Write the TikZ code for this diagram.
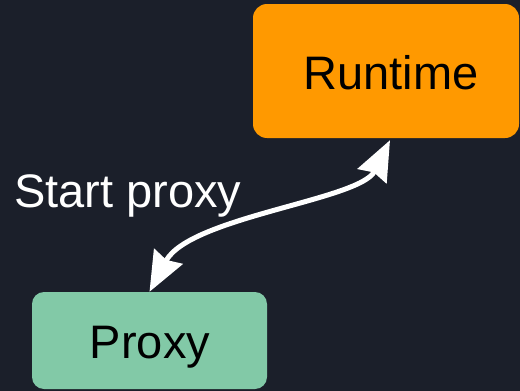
\documentclass[tikz,border=0pt]{standalone}
\usepackage{fontspec}
\setmainfont{Liberation Sans}
\usetikzlibrary{arrows.meta}
\definecolor{bg}{HTML}{1B1F2A}
\definecolor{runtimeC}{HTML}{FF9900}
\definecolor{proxyC}{HTML}{82C9A7}
\tikzset{
  box/.style={draw=none, rounded corners=14pt, inner sep=0pt},
  txt/.style={font=\fontsize{47}{50}\selectfont, inner sep=0pt},
  lbl/.style={txt, text height=34pt, text depth=0pt},
  arr/.style={draw=white, line width=5pt, {Stealth[length=40pt,width=32pt,inset=4pt]}-{Stealth[length=40pt,width=32pt,inset=4pt]}}
}
\begin{document}
\begin{tikzpicture}[x=1pt,y=-1pt]
\fill[bg] (0,0) rectangle (520,391);
\useasboundingbox (0,0) rectangle (520,391);
\node[box, fill=runtimeC, minimum width=266pt, minimum height=134pt] (runtime) at (386,71) {};
\node[lbl, text=black] (runtimeT) at (391,72) {Runtime};
\node[box, fill=proxyC, rounded corners=12pt, minimum width=235pt, minimum height=97pt] (proxy) at (149.5,340.5) {};
\node[lbl, text=black] (proxyT) at (150,341) {Proxy};
\node[txt, text=white, anchor=base west] (start) at (14,207) {Start proxy};
\coordinate (rtip) at ([xshift=4pt,yshift=-2pt]runtime.south);
\draw[arr] (proxy.north) .. controls +(40,-75) and +(-30,60) .. (rtip);
\end{tikzpicture}
\end{document}
